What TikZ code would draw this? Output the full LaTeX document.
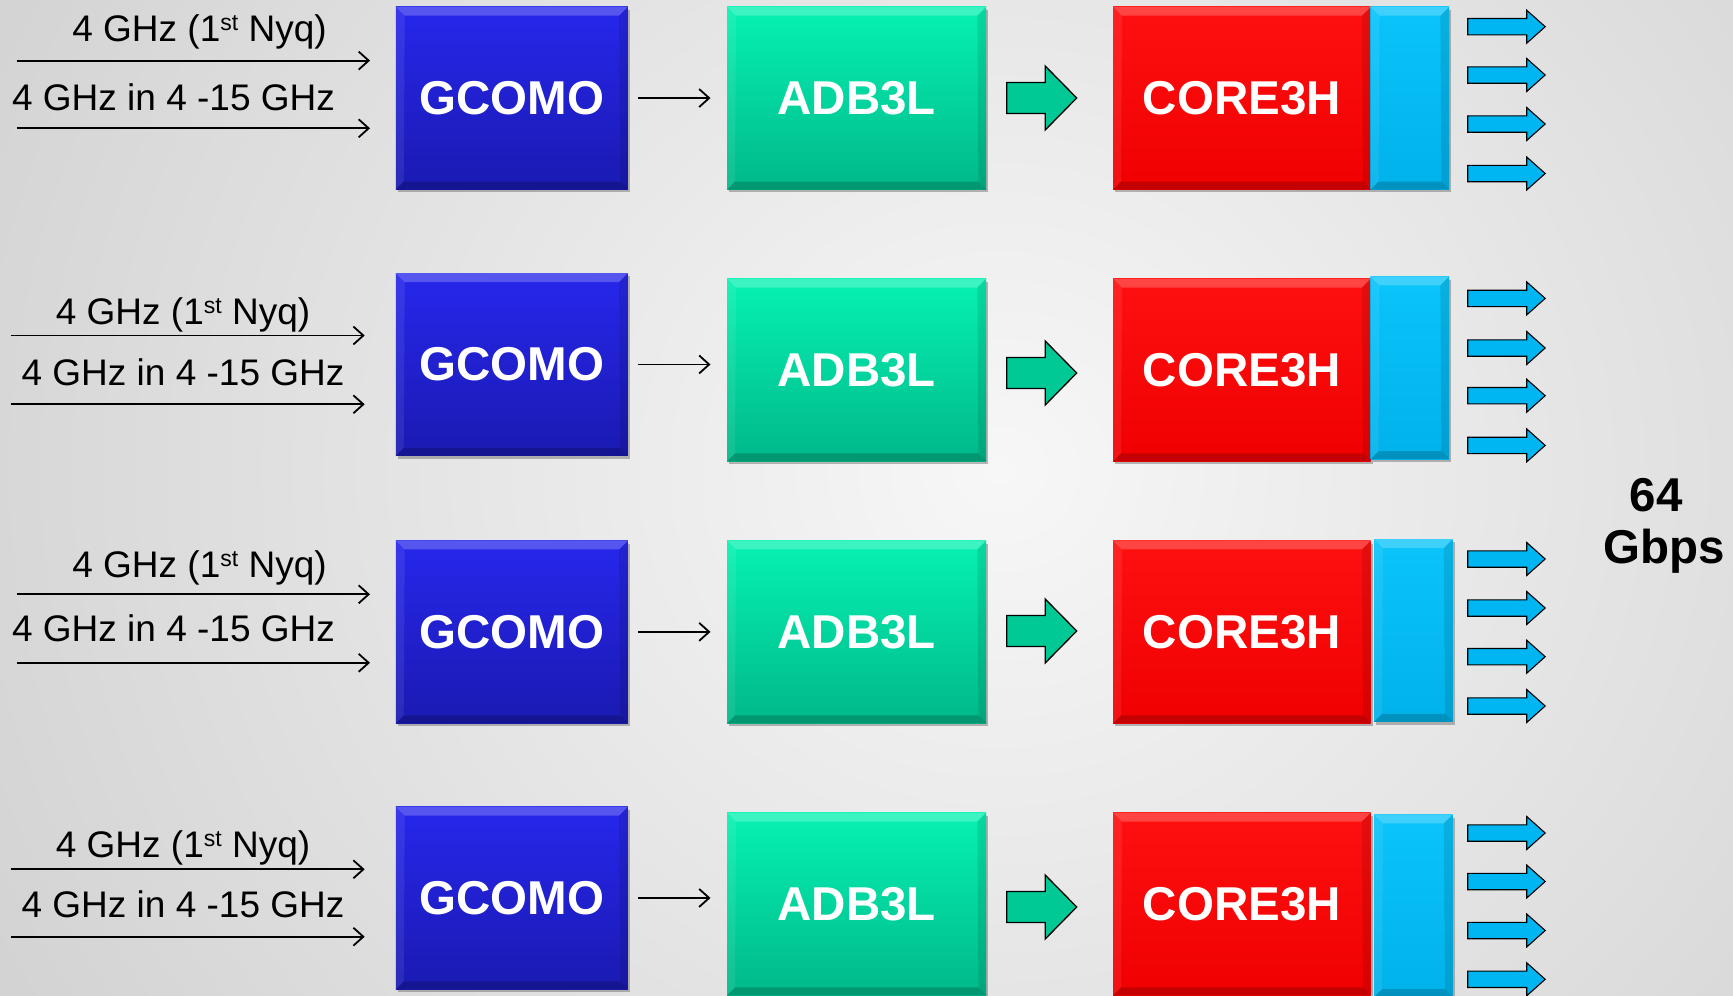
\documentclass[tikz,border=0pt]{standalone}
\usepackage{fontspec}
\setmainfont{Liberation Sans}
\usetikzlibrary{arrows.meta,shadows}
\definecolor{bgin}{HTML}{F7F7F7}
\definecolor{bgout}{HTML}{9E9E9E}
\definecolor{gtop}{HTML}{2727EC}
\definecolor{gbot}{HTML}{1A1AB2}
\definecolor{atop}{HTML}{06F2B2}
\definecolor{abot}{HTML}{00B88A}
\definecolor{rtop}{HTML}{FF1010}
\definecolor{rbot}{HTML}{F00000}
\definecolor{ctop}{HTML}{0AC4FA}
\definecolor{cbot}{HTML}{00B2EA}
\definecolor{garrow}{HTML}{00C996}
\definecolor{barrow}{HTML}{00B6F2}
\newcommand\bevelbox[1]{%
 \fill[white,opacity=0.22] (#1.north west) -- (#1.north east) -- ([shift={(-9pt,-9pt)}]#1.north east) -- ([shift={(9pt,-9pt)}]#1.north west) -- cycle;
 \fill[black,opacity=0.18] (#1.south west) -- (#1.south east) -- ([shift={(-8pt,8pt)}]#1.south east) -- ([shift={(8pt,8pt)}]#1.south west) -- cycle;
 \fill[white,opacity=0.08] (#1.north west) -- ([shift={(9pt,-9pt)}]#1.north west) -- ([shift={(8pt,8pt)}]#1.south west) -- (#1.south west) -- cycle;
 \fill[black,opacity=0.10] (#1.north east) -- ([shift={(-9pt,-9pt)}]#1.north east) -- ([shift={(-8pt,8pt)}]#1.south east) -- (#1.south east) -- cycle;
}
\newcommand\supst{\raisebox{11pt}{\fontsize{23}{23}\selectfont st}}
\tikzset{
 blk/.style={inner sep=0pt, anchor=north west, minimum height=182.5pt, text=white,
   font=\fontsize{47.5}{50}\selectfont\bfseries,
   drop shadow={shadow xshift=2pt, shadow yshift=-3pt, fill=black!60, opacity=0.45}},
 gblk/.style={blk, minimum width=232pt, top color=gtop, bottom color=gbot},
 ablk/.style={blk, minimum width=259pt, top color=atop, bottom color=abot},
 rblk/.style={blk, minimum width=257.5pt, top color=rtop, bottom color=rbot},
 cblk/.style={blk, minimum width=78.5pt, top color=ctop, bottom color=cbot},
 lbl/.style={inner sep=0pt, anchor=base, font=\fontsize{37}{40}\selectfont},
 rate/.style={inner sep=0pt, anchor=base, font=\fontsize{47.5}{50}\selectfont\bfseries},
 sig/.style={line width=1.8pt, -{Straight Barb[length=10pt,width=18pt]}},
 gfat/.pic={\draw[line width=1.3pt, fill=garrow, line join=miter]
   (0,-15.5) -- (38.5,-15.5) -- (38.5,-32) -- (70,0) -- (38.5,32) -- (38.5,15.5) -- (0,15.5) -- cycle;},
 bfat/.pic={\draw[line width=1.1pt, fill=barrow, line join=miter]
   (0,-8.2) -- (59,-8.2) -- (59,-16.5) -- (77.5,0) -- (59,16.5) -- (59,8.2) -- (0,8.2) -- cycle;}
}
\begin{document}
\begin{tikzpicture}[x=1pt,y=-1pt]
\useasboundingbox (0,0) rectangle (1733,996);
\begin{scope}
 \clip (0,0) rectangle (1733,996);
 \shade[inner color=bgin, outer color=bgout] (-1800,-2130) rectangle (3800,3070);
\end{scope}

% ---------- row 1 ----------
\node[gblk] (g1) at (395.7,6.6) {GCOMO};
\node[ablk] (a1) at (727,6.6) {ADB3L};
\node[rblk] (r1) at (1113,6.6) {CORE3H};
\node[cblk] (c1) at (1370.5,6.6) {};
% ---------- row 2 ----------
\node[gblk] (g2) at (395.7,273) {GCOMO};
\node[ablk] (a2) at (727,278.5) {ADB3L};
\node[rblk] (r2) at (1113,278.5) {CORE3H};
\node[cblk] (c2) at (1370.5,276.3) {};
% ---------- row 3 ----------
\node[gblk] (g3) at (395.7,540.4) {GCOMO};
\node[ablk] (a3) at (727,540.4) {ADB3L};
\node[rblk] (r3) at (1113,540.4) {CORE3H};
\node[cblk] (c3) at (1374,539) {};
% ---------- row 4 ----------
\node[gblk] (g4) at (395.7,806.5) {GCOMO};
\node[ablk] (a4) at (727,812.5) {ADB3L};
\node[rblk] (r4) at (1113,812.5) {CORE3H};
\node[cblk] (c4) at (1374,814.3) {};

\foreach \n in {g1,a1,r1,c1,g2,a2,r2,c2,g3,a3,r3,c3,g4,a4,r4,c4}{\bevelbox{\n}}

% ---------- inputs ----------
\coordinate (i1a) at (16.6,60.6);  \coordinate (i1b) at (16.6,128.3);
\coordinate (i2a) at (10.5,335.5); \coordinate (i2b) at (10.5,404.3);
\coordinate (i3a) at (16.6,594.3); \coordinate (i3b) at (16.6,662.8);
\coordinate (i4a) at (10.5,869.3); \coordinate (i4b) at (10.5,936.7);
\draw[sig, shorten >=25.7pt] (i1a) -- (i1a -| g1.west);
\draw[sig, shorten >=25.7pt] (i1b) -- (i1b -| g1.west);
\draw[sig, shorten >=31pt] (i2a) -- (i2a -| g2.west);
\draw[sig, shorten >=31pt] (i2b) -- (i2b -| g2.west);
\draw[sig, shorten >=25.7pt] (i3a) -- (i3a -| g3.west);
\draw[sig, shorten >=25.7pt] (i3b) -- (i3b -| g3.west);
\draw[sig, shorten >=31pt] (i4a) -- (i4a -| g4.west);
\draw[sig, shorten >=31pt] (i4b) -- (i4b -| g4.west);

\node[lbl] (t1a) at (199.5,41.8) {4 GHz (1\supst{} Nyq)};
\node[lbl] (t1b) at (173.5,110) {4 GHz in 4 -15 GHz};
\node[lbl] (t2a) at (183,324) {4 GHz (1\supst{} Nyq)};
\node[lbl] (t2b) at (183,385.2) {4 GHz in 4 -15 GHz};
\node[lbl] (t3a) at (199.5,577.5) {4 GHz (1\supst{} Nyq)};
\node[lbl] (t3b) at (173.5,641.7) {4 GHz in 4 -15 GHz};
\node[lbl] (t4a) at (183,857.3) {4 GHz (1\supst{} Nyq)};
\node[lbl] (t4b) at (183,917.7) {4 GHz in 4 -15 GHz};

% ---------- GCOMO -> ADB3L ----------
\foreach \k in {1,2,3,4}{
  \draw[sig, shorten <=10pt, shorten >=16.5pt] (g\k.east) -- (g\k.east -| a\k.west);
}

% ---------- ADB3L -> CORE3H block arrows ----------
\pic at (1006.7,98) {gfat};
\pic at (1006.7,373) {gfat};
\pic at (1006.7,631) {gfat};
\pic at (1006.7,907) {gfat};

% ---------- output arrows ----------
\foreach \yy in {26.7,75,124,173.5, 298.4,348,395.7,445.4, 559,608,656.7,706, 833,881.5,930.5,979.3}{
  \pic at (1467.7,\yy) {bfat};
}

\node[rate] (rt1) at (1656,511.7) {64};
\node[rate] (rt2) at (1664,563) {Gbps};
\end{tikzpicture}
\end{document}
